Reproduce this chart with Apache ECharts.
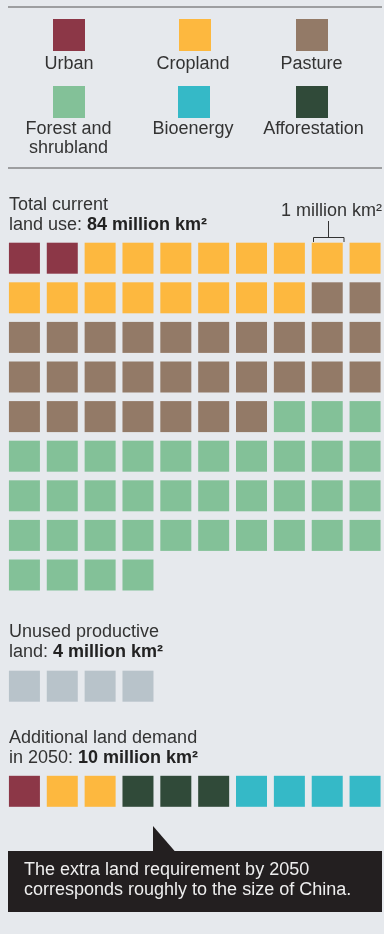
<!DOCTYPE html>
<html><head><meta charset="utf-8">
<script src="https://cdn.jsdelivr.net/npm/echarts@6/dist/echarts.min.js"></script>
<style>html,body{margin:0;padding:0;background:#e6e9ed;}#c{width:384px;height:934px;}</style>
</head><body><div id="c"></div>
<script>
// ---- data ----
const legendNames = ['Urban', 'Cropland', 'Pasture', 'Forest and\nshrubland', 'Bioenergy', 'Afforestation'];
const currentCats = ['Urban', 'Cropland', 'Pasture', 'Forest and shrubland'];
const currentCounts = [2, 16, 29, 37];          // million km², total 84
const unusedCats = ['Unused productive land'];
const unusedCounts = [4];
const addCats = ['Urban', 'Cropland', 'Afforestation', 'Bioenergy'];
const addCounts = [1, 2, 3, 4];                 // total 10
const colsPerRow = 10;

// ---- styles ----
const colors = {
  'Urban': '#8c3747', 'Cropland': '#fdb83f', 'Pasture': '#937a67',
  'Forest and shrubland': '#83c198', 'Forest and\nshrubland': '#83c198',
  'Bioenergy': '#35b9c7', 'Afforestation': '#304a39',
  'Unused productive land': '#b8c3ca'
};
const FONT = '"Liberation Sans", Arial, sans-serif';
const TXT = '#333333';
const FS = '18px ';

const chart = echarts.init(document.getElementById('c'), null, {renderer: 'canvas'});

function waffleSeries(cats, counts, gridIndex) {
  const out = [];
  let idx = 0;
  cats.forEach((c, k) => {
    const pts = [];
    for (let j = 0; j < counts[k]; j++, idx++) pts.push([idx % colsPerRow, Math.floor(idx / colsPerRow)]);
    out.push({
      type: 'scatter', name: c, xAxisIndex: gridIndex, yAxisIndex: gridIndex,
      symbol: 'rect', symbolSize: 31, silent: true,
      itemStyle: {color: colors[c], opacity: 1}, data: pts
    });
  });
  return out;
}
function rowsOf(counts) { return Math.ceil(counts.reduce((a, b) => a + b, 0) / colsPerRow); }

const grids = [
  {left: 5.5, width: 380, top: 238.4, height: 39.6 * rowsOf(currentCounts)},
  {left: 5.5, width: 380, top: 666.4, height: 39.6 * rowsOf(unusedCounts)},
  {left: 5.5, width: 380, top: 771.5, height: 39.6 * rowsOf(addCounts)}
];
const colCats = Array.from({length: colsPerRow}, (_, i) => i);
const xAxes = grids.map((g, i) => ({type: 'category', gridIndex: i, data: colCats, show: false, boundaryGap: true}));
const yAxes = [currentCounts, unusedCounts, addCounts].map((cnt, i) => ({
  type: 'category', gridIndex: i, inverse: true, show: false, boundaryGap: true,
  data: Array.from({length: rowsOf(cnt)}, (_, r) => r)
}));

// legend as graphic
const legendPos = [[69, 35], [195, 35], [312, 35], [69, 102], [194, 102], [312, 102]];
const legendLabelY = [64.5, 64.5, 64.5, 129, 129, 129];
const legendLabelX = [69, 193, 311.5, 68.5, 193, 313.5];
const legendGraphics = [];
legendNames.forEach((n, i) => {
  const [cx, cy] = legendPos[i];
  legendGraphics.push({type: 'rect', shape: {x: cx - 16, y: cy - 16, width: 32, height: 32}, style: {fill: colors[n]}, silent: true});
  legendGraphics.push({type: 'text', x: legendLabelX[i], y: legendLabelY[i] - 9.75, style: {text: n, fill: TXT, font: FS + FONT, textAlign: 'center', textVerticalAlign: 'top', lineHeight: 19.5}, silent: true});
});

function textLine(x, y, text, opts) {
  return {type: 'text', x: x, y: y, silent: true, style: Object.assign({
    text: text, fill: TXT, font: FS + FONT, textVerticalAlign: 'middle'}, opts || {})};
}
function richLine(x, y, normal, bold) {
  return {type: 'text', x: x, y: y, silent: true, style: {
    text: '{n|' + normal + '}{b|' + bold + '}', textVerticalAlign: 'middle',
    rich: {n: {fill: TXT, font: FS + FONT}, b: {fill: '#222', font: 'bold ' + FS + FONT}}
  }};
}

const graphics = [
  {type: 'line', shape: {x1: 8, y1: 7, x2: 382, y2: 7}, style: {stroke: '#555', lineWidth: 1.2}, silent: true},
  {type: 'line', shape: {x1: 8, y1: 168, x2: 382, y2: 168}, style: {stroke: '#555', lineWidth: 1.2}, silent: true},
  ...legendGraphics,
  textLine(9, 205, 'Total current'),
  richLine(9, 225, 'land use: ', '84 million km²'),
  textLine(382, 211, '1 million km²', {textAlign: 'right'}),
  {type: 'polyline', shape: {points: [[313.5, 242], [313.5, 237.5], [344, 237.5], [344, 242]]}, style: {stroke: '#333', lineWidth: 1, fill: null}, silent: true},
  {type: 'line', shape: {x1: 328.5, y1: 221, x2: 328.5, y2: 237.5}, style: {stroke: '#333', lineWidth: 1}, silent: true},
  textLine(9, 632, 'Unused productive'),
  richLine(9, 652, 'land: ', '4 million km²'),
  textLine(9, 738, 'Additional land demand'),
  richLine(9, 758.5, 'in 2050: ', '10 million km²'),
  {type: 'polygon', shape: {points: [[153, 826], [153, 852], [175.5, 852]]}, style: {fill: '#231f20'}, silent: true},
  {type: 'rect', shape: {x: 8, y: 851, width: 374, height: 61}, style: {fill: '#231f20'}, silent: true},
  textLine(24, 870.5, 'The extra land requirement by 2050', {fill: '#eeeeee', font: FS + FONT}),
  textLine(24, 890.5, 'corresponds roughly to the size of China.', {fill: '#eeeeee', font: FS + FONT})
];

chart.setOption({
  backgroundColor: '#e6e9ed',
  animation: false,
  grid: grids,
  xAxis: xAxes,
  yAxis: yAxes,
  series: [
    ...waffleSeries(currentCats, currentCounts, 0),
    ...waffleSeries(unusedCats, unusedCounts, 1),
    ...waffleSeries(addCats, addCounts, 2)
  ],
  graphic: graphics
});
</script>
</body></html>
